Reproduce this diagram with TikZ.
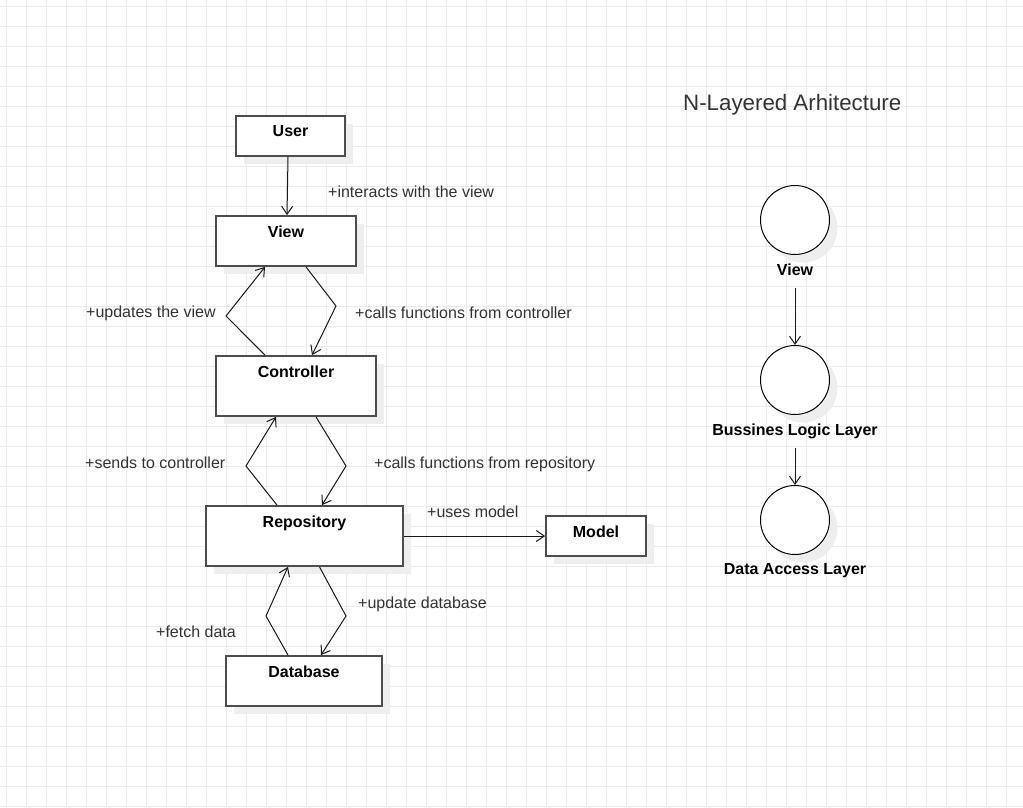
\documentclass[tikz,border=0pt]{standalone}
\usepackage{fontspec}
\setmainfont{Liberation Sans}
\usetikzlibrary{arrows.meta,positioning,shadows}

\definecolor{gridgray}{HTML}{EBEBEB}
\definecolor{boxline}{HTML}{4D4D4D}
\definecolor{shadowgray}{HTML}{EEEEEE}
\definecolor{labeltext}{HTML}{333333}
\newcommand\diagfont{\fontsize{16}{19}\selectfont}

\begin{document}
\begin{tikzpicture}[
  x=1pt, y=-1pt,
  >={Straight Barb[length=8pt,width=11pt]},
  gridline/.style={draw=gridgray, line width=1pt},
  flatshadow/.style={drop shadow={shadow xshift=8pt, shadow yshift=-8pt, fill=shadowgray, opacity=1}},
  classbox/.style={draw=boxline, line width=1.8pt, fill=white, inner sep=0pt, flatshadow},
  boxname/.style={font=\diagfont\bfseries, inner sep=0pt, anchor=north, yshift=-10.5pt},
  layer/.style={circle, draw=black, line width=1pt, fill=white, minimum size=69pt, inner sep=0pt, flatshadow},
  layername/.style={font=\diagfont\bfseries, inner sep=0pt},
  lbl/.style={font=\diagfont, text=labeltext, inner sep=0pt, anchor=base west},
  link/.style={->, draw=black!90, line width=1pt}
]
\useasboundingbox (0,0) rectangle (1023,807);

% Grid paper
\fill[white] (0,0) rectangle (1023,807);
\foreach \gx in {6,26,...,1006} \draw[gridline] (\gx,0) -- (\gx,807);
\foreach \gy in {6,26,...,806} \draw[gridline] (0,\gy) -- (1023,\gy);

% Class boxes
\node[classbox, minimum width=109pt, minimum height=40pt] (user) at (290.5,136) {};
\node[classbox, minimum width=140pt, minimum height=50pt, below=58.2pt of user, xshift=-4.5pt] (view) {};
\node[classbox, minimum width=160pt, minimum height=60pt, below=88.2pt of view, xshift=10pt] (ctrl) {};
\node[classbox, minimum width=197pt, minimum height=60pt, below=88.2pt of ctrl, xshift=8.5pt] (repo) {};
\node[classbox, minimum width=100pt, minimum height=40pt, right=141.2pt of repo] (model) {};
\node[classbox, minimum width=156pt, minimum height=50pt, below=88.2pt of repo, xshift=-0.5pt] (db) {};

% Box titles
\node[boxname] (user_t) at (user.north) {User};
\node[boxname] (view_t) at (view.north) {View};
\node[boxname] (ctrl_t) at (ctrl.north) {Controller};
\node[boxname] (repo_t) at (repo.north) {Repository};
\node[boxname] (model_t) at (model.north) {Model};
\node[boxname] (db_t) at (db.north) {Database};

% Connections
\draw[link] ([xshift=-2.5pt]user.south) -- ([xshift=1pt]view.north);
\draw[link] ([xshift=-31pt]ctrl.north) -- (226,316) -- ([xshift=-21pt]view.south);
\draw[link] ([xshift=20pt]view.south) -- (336,306) -- ([xshift=16pt]ctrl.north);
\draw[link] ([xshift=-27.5pt]repo.north) -- (246,466) -- ([xshift=-20pt]ctrl.south);
\draw[link] ([xshift=20pt]ctrl.south) -- (346,466) -- ([xshift=17.5pt]repo.north);
\draw[link] ([xshift=-16pt]db.north) -- (266,616) -- ([xshift=-16.5pt]repo.south);
\draw[link] ([xshift=15pt]repo.south) -- (346,616) -- ([xshift=17pt]db.north);
\draw[link] (repo) -- (model);

% Connector labels
\node[lbl] (l_inter) at (328,197) {+interacts with the view};
\node[lbl] (l_upd) at (86,317) {+updates the view};
\node[lbl] (l_callc) at (355,318) {+calls functions from controller};
\node[lbl] (l_send) at (85,468) {+sends to controller};
\node[lbl] (l_callr) at (374,468) {+calls functions from repository};
\node[lbl] (l_uses) at (427,517) {+uses model};
\node[lbl] (l_fetch) at (156,637) {+fetch data};
\node[lbl] (l_updb) at (358,608) {+update database};

% N-layered side
\node[font=\fontsize{22.3}{26}\selectfont, text=labeltext, inner sep=0pt, anchor=west] (title) at (683,104.5) {N-Layered Arhitecture};

\node[layer] (viewc) at (795,220) {};
\node[layername, below=8.5pt of viewc] (viewc_t) {View};
\node[layer, below=90pt of viewc] (blc) {};
\node[layername, below=8.5pt of blc] (blc_t) {Bussines Logic Layer};
\node[layer, below=70pt of blc] (dac) {};
\node[layername, below=8.5pt of dac] (dac_t) {Data Access Layer};

\draw[link] ([yshift=-13pt]viewc_t.base) -- (blc.north);
\draw[link] ([yshift=-12.5pt]blc_t.base) -- (dac.north);

\end{tikzpicture}
\end{document}
